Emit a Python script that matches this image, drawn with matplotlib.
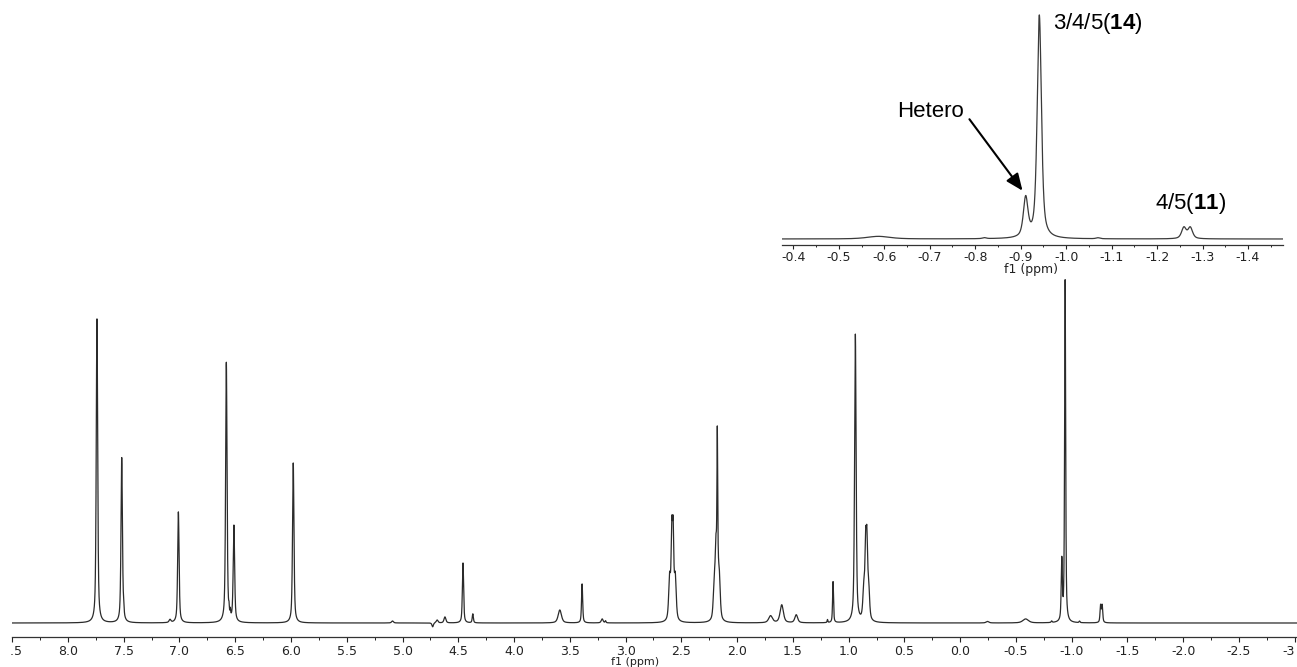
import numpy as np
import matplotlib
matplotlib.use("Agg")
import matplotlib.pyplot as plt
from matplotlib.ticker import MultipleLocator, FormatStrFormatter
from matplotlib.transforms import Bbox, TransformedBbox

plt.rcParams["axes.unicode_minus"] = False
plt.rcParams["mathtext.fontset"] = "custom"
plt.rcParams["mathtext.rm"] = "Liberation Sans"
plt.rcParams["mathtext.bf"] = "Liberation Sans:bold"

# --- 1H NMR peak list: shift (ppm), amplitude (a.u.), line width FWHM (ppm)
peak_ppm = [7.740, 7.518, 7.500, 7.085, 7.010, 6.580, 6.556, 6.544, 6.512,
            5.980, 5.090, 4.730, 4.690, 4.620, 4.458, 4.370, 3.590, 3.390,
            3.210, 3.180,
            2.555, 2.574, 2.586, 2.605,
            2.160, 2.176, 2.178, 2.190, 2.205,
            1.700, 1.600, 1.470, 1.190, 1.140, 0.940,
            0.822, 0.837, 0.848, 0.864,
            -0.245, -0.587, -0.820, -0.911, -0.941, -1.070, -1.259, -1.273]
peak_height = [304, 165, 8, 3, 111, 260, 6, 6, 96,
               160, 2, -4, 3, 6, 60, 9, 13, 39,
               4, 2,
               42, 81, 81, 42,
               40, 60, 114, 60, 35,
               7, 18, 8, 3, 41, 288,
               35, 68, 68, 30,
               1.5, 4, 1.5, 60, 342, 1.5, 17, 17]
peak_fwhm = [0.015, 0.015, 0.008, 0.02, 0.015, 0.015, 0.006, 0.006, 0.015,
             0.015, 0.02, 0.015, 0.02, 0.02, 0.013, 0.012, 0.035, 0.012,
             0.02, 0.01,
             0.02, 0.014, 0.014, 0.02,
             0.02, 0.016, 0.007, 0.016, 0.02,
             0.04, 0.035, 0.03, 0.008, 0.010, 0.016,
             0.02, 0.014, 0.014, 0.02,
             0.03, 0.06, 0.01, 0.012, 0.011, 0.01, 0.012, 0.012]

# axis ranges
main_xlim = (8.5, -3.02)
inset_xlim = (-0.375, -1.477)


def spectrum(x, eta=0.6):
    y = np.zeros_like(x)
    for c, a, w in zip(peak_ppm, peak_height, peak_fwhm):
        d = (x - c) / (w / 2.0)
        y += a * (eta / (1.0 + d ** 2) + (1.0 - eta) * np.exp(-np.log(2) * d ** 2))
    return y


W, H = 1297, 667
fig = plt.figure(figsize=(W / 100, H / 100), dpi=100)
fig.patch.set_facecolor("white")

# ---------- full spectrum ----------
ax = fig.add_axes([12.2 / W, 1 - 637 / H, (W - 12.2) / W, 367 / H])
ax.set_facecolor("none")
x_main = np.linspace(main_xlim[0], main_xlim[1], 46000)
ax.plot(x_main, spectrum(x_main), color="#2b2b2b", lw=0.9)
ax.set_xlim(*main_xlim)
ax.set_ylim(-14, 353)
for s in ("top", "left", "right"):
    ax.spines[s].set_visible(False)
ax.spines["bottom"].set_color("#333333")
ax.spines["bottom"].set_linewidth(0.9)
ax.set_yticks([])
ax.xaxis.set_major_locator(MultipleLocator(0.5))
ax.xaxis.set_minor_locator(MultipleLocator(0.25))
ax.xaxis.set_major_formatter(FormatStrFormatter("%.1f"))
ax.tick_params(axis="x", which="major", length=3.6, width=0.8, pad=2.2,
               labelsize=9, colors="#222222")
ax.tick_params(axis="x", which="minor", length=1.8, width=0.7, colors="#222222")
ax.set_xlabel("f1 (ppm)", fontsize=8, color="#222222")
ax.xaxis.label.set_va("center")
ax.xaxis.set_label_coords((635 - 12.2) / (W - 12.2), (637 - 662) / 367)

# ---------- expanded region ----------
axi = fig.add_axes([782 / W, 1 - 245 / H, 501 / W, 237 / H])
axi.set_facecolor("none")
x_ins = np.linspace(inset_xlim[0], inset_xlim[1], 8000)
axi.plot(x_ins, spectrum(x_ins), color="#3a3a3a", lw=0.9)
axi.set_xlim(*inset_xlim)
axi.set_ylim(-9.2, 354)
for s in ("top", "left", "right"):
    axi.spines[s].set_visible(False)
axi.spines["bottom"].set_color("#333333")
axi.spines["bottom"].set_linewidth(0.9)
axi.set_yticks([])
axi.xaxis.set_major_locator(MultipleLocator(0.1))
axi.xaxis.set_minor_locator(MultipleLocator(0.05))
axi.xaxis.set_major_formatter(FormatStrFormatter("%.1f"))
axi.tick_params(axis="x", which="major", length=2.9, width=0.8, pad=1.2,
                labelsize=9, colors="#222222")
axi.tick_params(axis="x", which="minor", length=1.5, width=0.7, colors="#222222")
axi.set_xlabel("f1 (ppm)", fontsize=9, color="#222222")
axi.xaxis.label.set_va("center")
axi.xaxis.set_label_coords(0.497, (245 - 269) / 237)

lab_font = dict(family="Liberation Sans", fontsize=16, color="black")
axi.text(0.541, 0.9325, r"3/4/5($\mathbf{14}$)", transform=axi.transAxes,
         ha="left", va="center", clip_on=False, **lab_font)
axi.text(0.7445, 0.173, r"4/5($\mathbf{11}$)", transform=axi.transAxes,
         ha="left", va="center", clip_on=False, **lab_font)
axi.annotate("Hetero", xy=(-0.904, 74), xycoords="data",
             xytext=(0.297, 0.565), textcoords="axes fraction",
             ha="center", va="center", annotation_clip=False, **lab_font,
             arrowprops=dict(arrowstyle="-|>,head_length=0.85,head_width=0.36",
                             mutation_scale=12, lw=1.5, color="black",
                             relpos=(1.0, 0.45), shrinkA=3, shrinkB=0))

# the end tick labels sit at the figure edges; trim them there
fig.canvas.draw()
edge = TransformedBbox(Bbox.from_extents(10.5 / W, 0, 1294.5 / W, 1),
                       fig.transFigure)
for lbl in ax.get_xticklabels():
    lbl.set_clip_box(edge)
    lbl.set_clip_on(True)

fig.savefig("out.png", dpi=100)
